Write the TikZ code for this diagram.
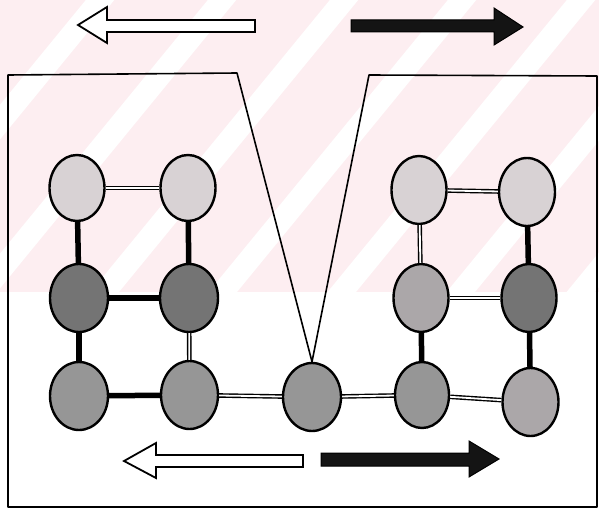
\documentclass[tikz,border=0pt]{standalone}
\usetikzlibrary{shapes.geometric}
\definecolor{wmpink}{HTML}{FDEEF1}
\definecolor{light}{HTML}{D8D2D4}
\definecolor{mid}{HTML}{969696}
\definecolor{dark}{HTML}{747474}
\definecolor{midlight}{HTML}{ABA7A9}
\tikzset{
  ball/.style={ellipse, draw=black, line width=2.4pt, inner sep=0pt},
  thickbond/.style={line width=5.5pt, black},
  dblbond/.style={double=white, double distance=1.8pt, line width=1.4pt, black},
  frame/.style={line width=1.6pt, black, line join=round},
  hollowarrow/.style={draw=black, fill=white, line width=1.8pt, line join=miter},
  solidarrow/.style={draw=black, fill=black!92, line width=1pt, line join=miter},
}
\begin{document}
\begin{tikzpicture}[x=1pt,y=-1pt]
\useasboundingbox (0,0) rectangle (599,511);
\fill[white] (0,0) rectangle (599,511);
% watermark
\begin{scope}
\clip (0,0) rectangle (599,292);
\fill[wmpink] (0,0) rectangle (599,292);
\foreach \c in {100,222,344,462,581,700,820}
  \draw[white, line width=22pt] (\c+50,-61) -- (\c-290,354);
\end{scope}

% balls
\node[ball, fill=light, minimum width=55pt, minimum height=66pt] (a1) at (77,188) {};
\node[ball, fill=light, minimum width=55pt, minimum height=66pt] (a2) at (188,188) {};
\node[ball, fill=dark, minimum width=58pt, minimum height=68pt] (b1) at (79,298) {};
\node[ball, fill=dark, minimum width=58pt, minimum height=68pt] (b2) at (189,298) {};
\node[ball, fill=mid, minimum width=58pt, minimum height=68pt] (c1) at (79,396) {};
\node[ball, fill=mid, minimum width=57pt, minimum height=68pt] (c2) at (189.5,395) {};
\node[ball, fill=mid, minimum width=58pt, minimum height=68pt] (m) at (312,397) {};
\node[ball, fill=light, minimum width=55pt, minimum height=68pt] (d1) at (419,190) {};
\node[ball, fill=light, minimum width=56pt, minimum height=68pt] (d2) at (527,192) {};
\node[ball, fill=midlight, minimum width=55pt, minimum height=68pt] (e1) at (421,298) {};
\node[ball, fill=dark, minimum width=55pt, minimum height=68pt] (e2) at (529,298) {};
\node[ball, fill=mid, minimum width=54pt, minimum height=66pt] (f1) at (422,395) {};
\node[ball, fill=midlight, minimum width=56pt, minimum height=68pt] (f2) at (530.5,402) {};

% bonds
\draw[dblbond] (a1) -- (a2);
\draw[thickbond] (a1) -- (b1);
\draw[thickbond] (a2) -- (b2);
\draw[thickbond] (b1) -- (b2);
\draw[thickbond] (b1) -- (c1);
\draw[dblbond] (b2) -- (c2);
\draw[thickbond] (c1) -- (c2);
\draw[dblbond] (c2) -- (m);
\draw[dblbond] (m) -- (f1);
\draw[dblbond] (f1) -- (f2);
\draw[dblbond] (d1) -- (d2);
\draw[dblbond] (d1) -- (e1);
\draw[thickbond] (d2) -- (e2);
\draw[dblbond] (e1) -- (e2);
\draw[thickbond] (e1) -- (f1);
\draw[thickbond] (e2) -- (f2);

% frame
\coordinate (apex) at (m.north);
\draw[frame] (8,75) -- (237,73) -- (apex) -- (369,75) -- (597,76) -- (597,507) -- (8,507) -- cycle;

% arrows
\draw[hollowarrow] (78,25) -- (107,7) -- (107,20) -- (255,20) -- (255,32) -- (107,32) -- (107,43) -- cycle;
\draw[solidarrow] (351,20) -- (494,20) -- (494,8) -- (523,27) -- (494,45) -- (494,32) -- (351,32) -- cycle;
\draw[hollowarrow] (124,461) -- (156,443) -- (156,455) -- (303,455) -- (303,467) -- (156,467) -- (156,478) -- cycle;
\draw[solidarrow] (321,453) -- (469,453) -- (469,441) -- (499,459) -- (469,477) -- (469,466) -- (321,466) -- cycle;
\end{tikzpicture}
\end{document}
